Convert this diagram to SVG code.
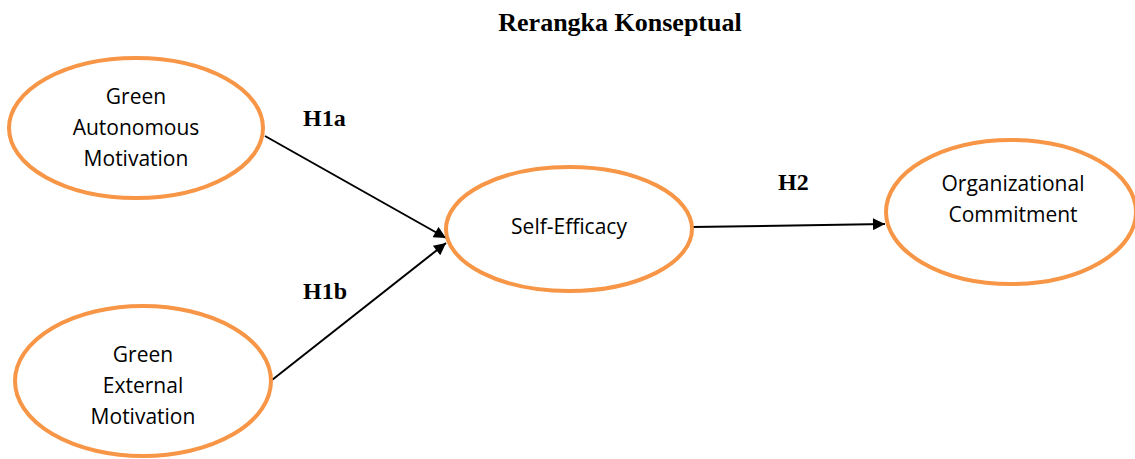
<svg xmlns="http://www.w3.org/2000/svg" width="1135" height="459" viewBox="0 0 1135 459">
<defs>
<style>
.node{fill:#fff;stroke:#f79646;stroke-width:4}
.lbl{font-family:"Open Sans","Liberation Sans",sans-serif;font-size:21px;fill:#000;text-anchor:middle}
.h{font-family:"Liberation Serif","Times New Roman",serif;font-weight:bold;font-size:24px;fill:#000}
.edge{stroke:#000;stroke-width:2;fill:none;marker-end:url(#arr)}
</style>
<marker id="arr" viewBox="0 0 10 10" refX="10" refY="5" markerWidth="14" markerHeight="12" markerUnits="userSpaceOnUse" orient="auto">
<path d="M0,0 L10,5 L0,10 z" fill="#000"/>
</marker>
</defs>
<rect width="1135" height="459" fill="#fff"/>
<text x="620" y="31" class="h" text-anchor="middle" style="font-size:26px">Rerangka Konseptual</text>
<g id="connectors">
<line class="edge" x1="265" y1="136" x2="446" y2="238"/>
<line class="edge" x1="272" y1="380" x2="446" y2="243"/>
<line class="edge" x1="692" y1="227" x2="885" y2="224"/>
<text class="h" x="303" y="126">H1a</text>
<text class="h" x="303" y="299">H1b</text>
<text class="h" x="778" y="190">H2</text>
</g>
<g id="gam">
<ellipse class="node" cx="136" cy="128" rx="127" ry="70"/>
<text class="lbl" x="136" y="104">Green</text>
<text class="lbl" x="136" y="135">Autonomous</text>
<text class="lbl" x="136" y="166">Motivation</text>
</g>
<g id="gem">
<ellipse class="node" cx="143" cy="381" rx="128" ry="75"/>
<text class="lbl" x="143" y="362">Green</text>
<text class="lbl" x="143" y="393">External</text>
<text class="lbl" x="143" y="424">Motivation</text>
</g>
<g id="se">
<ellipse class="node" cx="569" cy="229" rx="123" ry="62"/>
<text class="lbl" x="569" y="234">Self-Efficacy</text>
</g>
<g id="oc">
<ellipse class="node" cx="1011" cy="212" rx="125" ry="72"/>
<text class="lbl" x="1013" y="191">Organizational</text>
<text class="lbl" x="1013" y="222">Commitment</text>
</g>
</svg>
